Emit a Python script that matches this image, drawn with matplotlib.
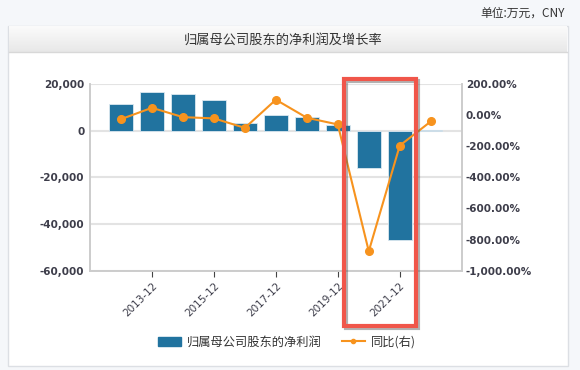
import numpy as np
import matplotlib
matplotlib.use("Agg")
import matplotlib.pyplot as plt
from matplotlib.patches import Rectangle, Patch
from matplotlib.lines import Line2D

plt.rcParams['font.family'] = ['DejaVu Sans', 'Noto Sans CJK SC']
CJK = ['Noto Sans CJK SC', 'DejaVu Sans']

years = ['2012-12', '2013-12', '2014-12', '2015-12', '2016-12', '2017-12',
         '2018-12', '2019-12', '2020-12', '2021-12', '2022-12']
net_profit = [11300, 16700, 15600, 13000, 3200, 6600, 5700, 2400, -16100, -47000, 500]
yoy_pct = [-26, 47, -13, -21, -82, 99, -17, -60, -875, -196, -41]
shown_ticks = ['2013-12', '2015-12', '2017-12', '2019-12', '2021-12']

title = '归属母公司股东的净利润及增长率'
unit_text = '单位:万元，CNY'
bar_label = '归属母公司股东的净利润'
line_label = '同比(右)'

bar_col = '#21739f'
line_col = '#f7931e'
txt_col = '#333333'
tick_col = '#3d3d4a'

W, H = 580, 370
fig = plt.figure(figsize=(W / 100, H / 100), dpi=100)
fig.patch.set_facecolor('#f5f7fa')

def fx(px):
    return px / W

def fy(py):
    return 1 - py / H

# outer panel + header band
fig.patches.append(Rectangle((fx(8), fy(366)), fx(560), (366 - 26) / H, transform=fig.transFigure,
                             facecolor='white', edgecolor='#dcdfe4', lw=1, zorder=-5))
hdr = fig.add_axes([fx(9), fy(52), fx(558), 26 / H], zorder=-1)
grad = np.linspace(0, 1, 50).reshape(-1, 1)
hdr.imshow(grad, aspect='auto', cmap=matplotlib.colors.LinearSegmentedColormap.from_list('g', ['#fbfbfb', '#e8e8e8']),
           extent=[0, 1, 0, 1])
hdr.axis('off')
fig.add_artist(Line2D([fx(9), fx(567)], [fy(52), fy(52)], transform=fig.transFigure, color='#d8d8d8', lw=1))

fig.text(fx(283), fy(40), title, ha='center', va='center', fontsize=9.5, color=txt_col, family=CJK)
fig.text(fx(565), fy(13), unit_text, ha='right', va='center', fontsize=8.5, color=txt_col, family=CJK)

ax = fig.add_axes([fx(90), fy(270.7), fx(461.7 - 90), (270.7 - 84) / H])
x = np.arange(len(years))
ax.bar(x, net_profit, width=0.76, color=bar_col, edgecolor='#dbe8f0', linewidth=0.6, zorder=3)
ax.set_xlim(-1, len(years))
ax.set_ylim(-60000, 20000)
ax.set_yticks(np.arange(-60000, 20001, 20000))
ax.set_yticklabels([f"{v:,}" for v in range(-60000, 20001, 20000)], fontweight='bold')
ax.grid(axis='y', color='#e3e3e3', lw=1.5, zorder=0)
ax.set_axisbelow(True)
tick_pos = [years.index(t) for t in shown_ticks]
ax.set_xticks(tick_pos)
ax.set_xticklabels(shown_ticks, rotation=45, ha='right', va='top', rotation_mode='anchor', fontsize=7.5, color=tick_col)
ax.tick_params(axis='x', length=4, color='#444444', pad=3)
ax.tick_params(axis='y', length=0, labelsize=7.5, labelcolor=tick_col, pad=4)
ax.spines['top'].set_visible(False)
for s in ['left', 'bottom', 'right']:
    ax.spines[s].set_color('#cccccc')
    ax.spines[s].set_linewidth(1.2)

ax2 = ax.twinx()
ax2.plot(x, yoy_pct, color=line_col, lw=1.5, marker='o', markersize=5.5, zorder=4)
ax2.set_ylim(-1000, 200)
ax2.set_yticks(np.arange(-1000, 201, 200))
ax2.set_yticklabels([f"{v:,.2f}%" for v in range(-1000, 201, 200)], fontweight='bold')
ax2.tick_params(axis='y', length=0, labelsize=7.5, labelcolor=tick_col, pad=3)
ax2.spines['top'].set_visible(False)
for s in ['left', 'bottom', 'right']:
    ax2.spines[s].set_color('#cccccc')
    ax2.spines[s].set_linewidth(1.2)

handles = [Patch(facecolor=bar_col, edgecolor=bar_col),
           Line2D([0], [0], color=line_col, lw=1.5, marker='o', markersize=3)]
leg = fig.legend(handles, [bar_label, line_label], loc='center', bbox_to_anchor=(fx(287), fy(342)),
                 ncol=2, frameon=False, handlelength=1.9, handleheight=0.8, columnspacing=1.6,
                 handletextpad=0.5, prop={'family': CJK, 'size': 8.8})
for t in leg.get_texts():
    t.set_color(txt_col)

# red highlight box with a soft shadow
shadow = Rectangle((fx(346), fy(328)), fx(72), (326 - 79) / H, transform=fig.transFigure,
                   fill=False, edgecolor='#555555', alpha=0.45, lw=3, zorder=9)
fig.patches.append(shadow)
box = Rectangle((fx(344), fy(326)), fx(72), (326 - 79) / H, transform=fig.transFigure,
                fill=False, edgecolor='#f0564a', lw=3, zorder=10)
fig.patches.append(box)

fig.savefig('out.png', dpi=100, facecolor=fig.get_facecolor())
